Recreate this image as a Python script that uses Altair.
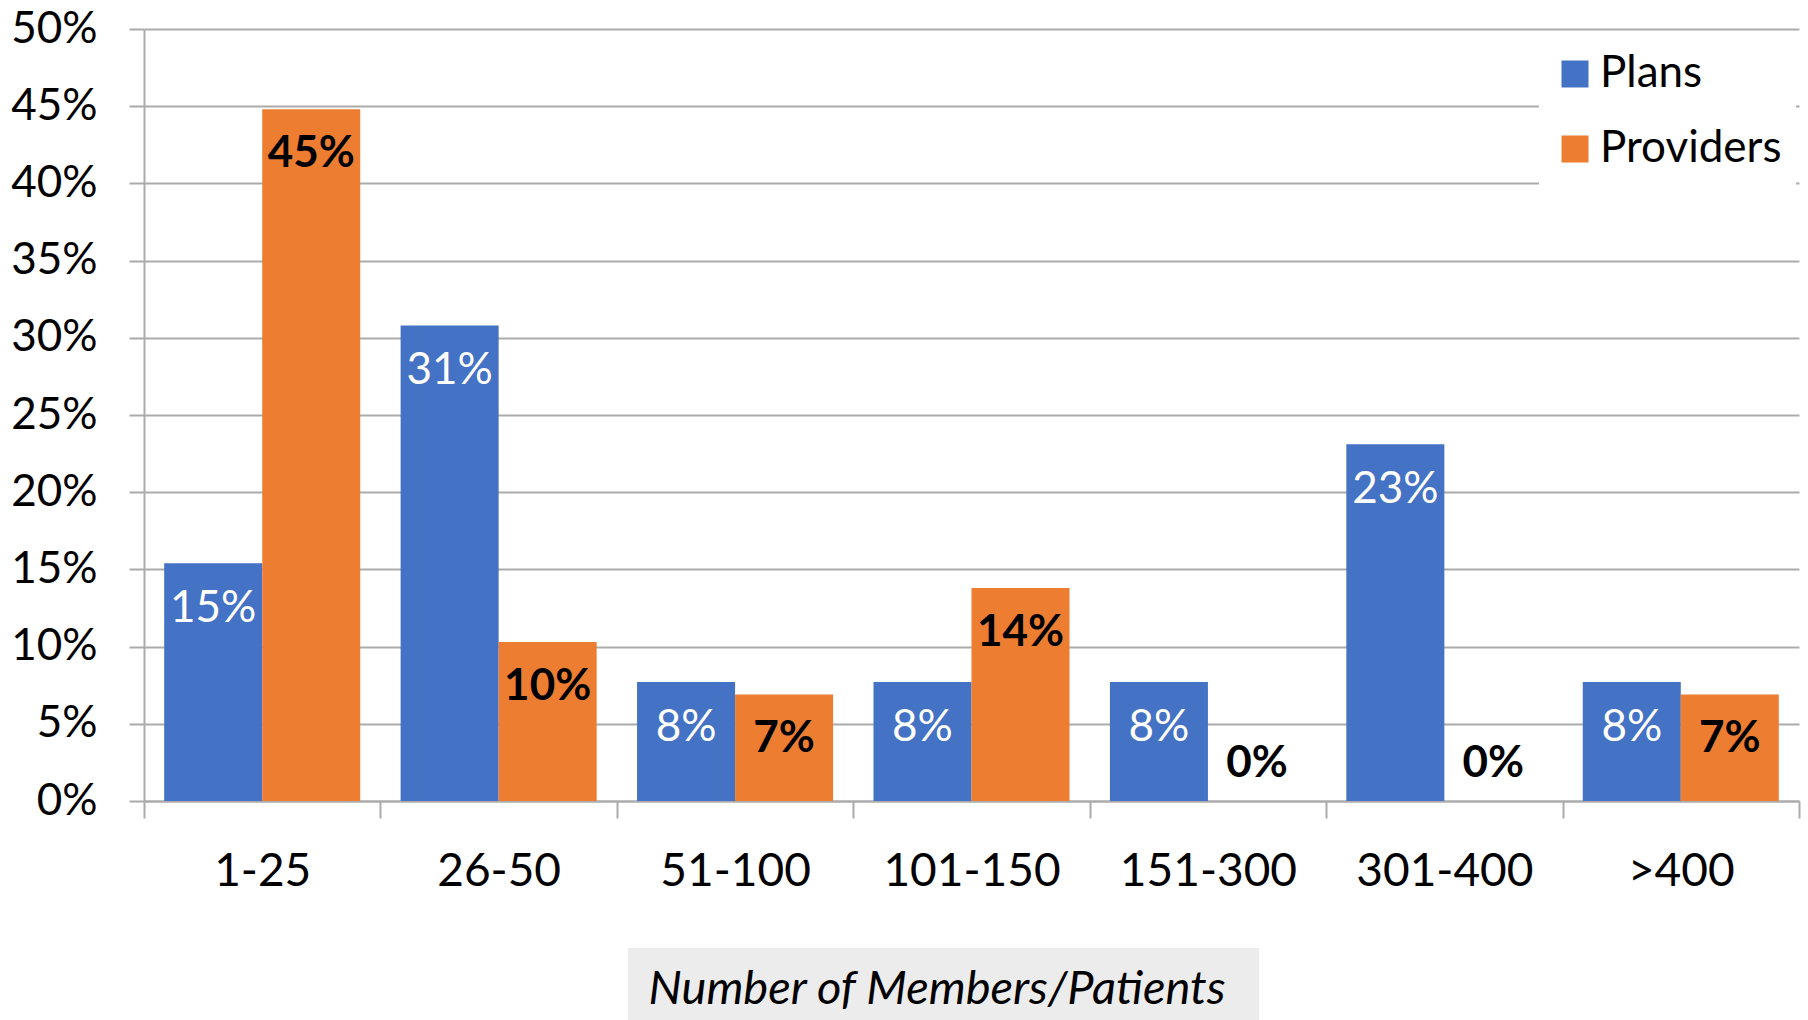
import altair as alt
import pandas as pd

# Share of respondents by number of members/patients
categories = ["1-25", "26-50", "51-100", "101-150", "151-300", "301-400", ">400"]
plans = [0.154, 0.308, 0.077, 0.077, 0.077, 0.231, 0.077]
providers = [0.448, 0.103, 0.069, 0.138, 0.0, 0.0, 0.069]
series = ["Plans", "Providers"]
colors = ["#4472C4", "#ED7D31"]
y_ticks = [0.0, 0.05, 0.10, 0.15, 0.20, 0.25, 0.30, 0.35, 0.40, 0.45, 0.50]
x_title = "Number of Members/Patients"

rows = []
for i, cat in enumerate(categories):
    rows.append({"range": cat, "series": "Plans", "share": plans[i]})
    rows.append({"range": cat, "series": "Providers", "share": providers[i]})
df = pd.DataFrame(rows)

FONT = "Lato"
GRAY = "#ababab"
FS = 44

x_enc = alt.X(
    "range:N",
    sort=categories,
    scale=alt.Scale(paddingInner=0, paddingOuter=0),
    axis=alt.Axis(
        title=None,
        labelAngle=0,
        tickBand="extent",
        tickSize=17,
        tickWidth=2,
        tickColor=GRAY,
        domainColor=GRAY,
        domainWidth=2,
        labelFont=FONT,
        labelFontSize=46,
        labelColor="black",
        labelPadding=31,
        grid=False,
    ),
)
xoff_enc = alt.XOffset(
    "series:N", sort=series, scale=alt.Scale(paddingOuter=0.206, paddingInner=0)
)
y_enc = alt.Y(
    "share:Q",
    scale=alt.Scale(domain=[0, 0.5], nice=False),
    axis=alt.Axis(
        title=None,
        values=y_ticks,
        format=".0%",
        grid=True,
        gridColor=GRAY,
        gridWidth=2,
        domainColor=GRAY,
        domainWidth=2,
        tickColor=GRAY,
        tickWidth=2,
        tickSize=15,
        labelFont=FONT,
        labelFontSize=FS,
        labelColor="black",
        labelPadding=32,
    ),
)

base = alt.Chart(df)

bars = base.mark_bar().encode(
    x=x_enc,
    xOffset=xoff_enc,
    y=y_enc,
    color=alt.Color(
        "series:N",
        sort=series,
        scale=alt.Scale(domain=series, range=colors),
        legend=alt.Legend(
            title=None,
            orient="none",
            legendX=1395,
            legendY=9,
            fillColor="white",
            padding=14,
            symbolType="square",
            symbolSize=729,
            symbolStrokeWidth=0,
            symbolOpacity=1,
            labelFont=FONT,
            labelFontSize=FS,
            labelColor="black",
            labelOffset=3,
            labelLimit=400,
            rowPadding=31,
        ),
    ),
)

plan_labels = (
    base.transform_filter("datum.series == 'Plans' && datum.share > 0")
    .mark_text(font=FONT, fontSize=FS, color="white", baseline="alphabetic", dy=59)
    .encode(x=alt.X("range:N", sort=categories), xOffset=xoff_enc, y="share:Q",
            text=alt.Text("share:Q", format=".0%"))
)

provider_labels = (
    base.transform_filter("datum.series == 'Providers' && datum.share > 0")
    .mark_text(font=FONT, fontSize=FS, fontWeight="bold", color="black",
               baseline="alphabetic", dy=58)
    .encode(x=alt.X("range:N", sort=categories), xOffset=xoff_enc, y="share:Q",
            text=alt.Text("share:Q", format=".0%"))
)

zero_labels = (
    base.transform_filter("datum.share == 0")
    .mark_text(font=FONT, fontSize=FS, fontWeight="bold", color="black",
               baseline="alphabetic", dy=-24)
    .encode(x=alt.X("range:N", sort=categories), xOffset=xoff_enc, y="share:Q",
            text=alt.Text("share:Q", format=".0%"))
)

# Axis title drawn on a shaded box below the category labels
title_df = pd.DataFrame({"label": [x_title]})
title_box = alt.Chart(title_df).mark_rect(color="#ececec").encode(
    x=alt.value(484), x2=alt.value(1115), y=alt.value(919), y2=alt.value(995)
)
title_text = alt.Chart(title_df).mark_text(
    font=FONT, fontSize=47, fontStyle="italic", color="black", baseline="alphabetic",
    align="center",
).encode(x=alt.value(793), y=alt.value(975), text="label:N")

chart = (
    alt.layer(bars, plan_labels, provider_labels, zero_labels, title_box, title_text)
    .properties(
        width=1655,
        height=772,
        autosize=alt.AutoSizeParams(type="none"),
        padding={"left": 144, "top": 29, "right": 9, "bottom": 219},
        background="white",
    )
    .configure_view(stroke=None)
)

chart.save("out.html", embed_options={"renderer": "svg", "actions": False})
